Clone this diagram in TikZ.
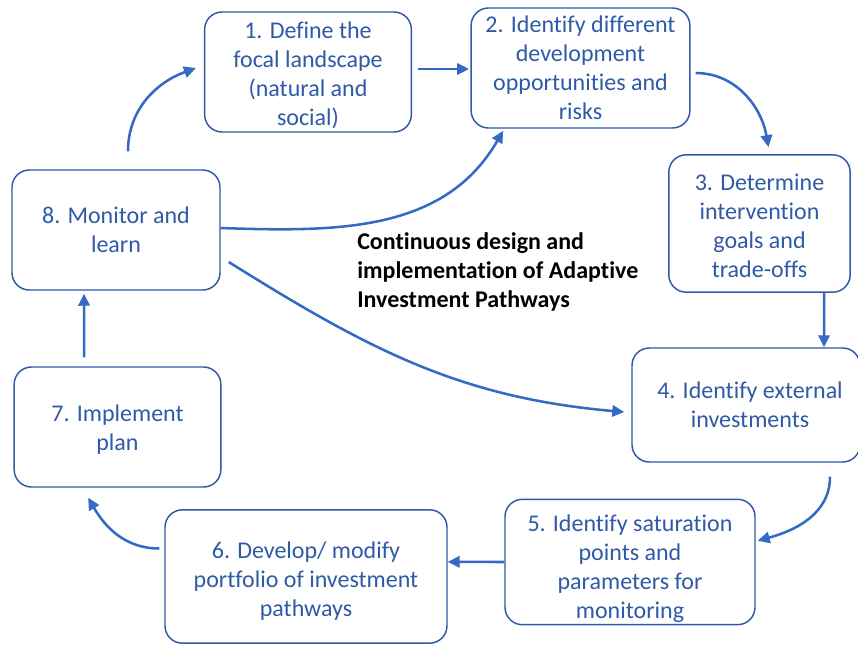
\documentclass[tikz,border=0pt]{standalone}
\usepackage{fontspec}
\setmainfont{Carlito}[Ligatures=NoCommon]
\usetikzlibrary{arrows.meta}
\definecolor{boxblue}{RGB}{47,90,168}
\definecolor{arrowblue}{RGB}{52,106,196}
\newcommand{\topgap}[1]{\rule{0pt}{#1}}

\begin{document}
\begin{tikzpicture}[x=0.75pt,y=-0.75pt]

    % 定义样式
    \tikzstyle{process} = [rectangle, rounded corners=13pt, draw=boxblue, line width=1.1pt, text=boxblue, align=center, inner sep=0pt, font=\fontsize{18}{21.75}\selectfont]
    \tikzstyle{arrow} = [draw=arrowblue, line width=1.9pt, -{Triangle[length=9pt,width=8.5pt]}]

    \useasboundingbox[fill=white] (0,0) rectangle (858,644);

    % 创建节点
    \node (define) [process, minimum width=155pt, minimum height=90pt] at (308,72) {\topgap{17.5pt}1. Define the\\focal landscape\\(natural and\\social)};
    \node (identify) [process, minimum width=164pt, minimum height=90pt] at (580.5,68) {2. Identify different\\development\\opportunities and\\risks};
    \node (goals) [process, minimum width=136pt, minimum height=103pt] at (759.5,223.5) {\topgap{16pt}3. Determine\\intervention\\goals and\\trade-offs};
    \node (external) [process, minimum width=171pt, minimum height=85.5pt] at (746,405) {\hspace*{6pt}4. Identify external\\\hspace*{6pt}investments};
    \node (saturation) [process, minimum width=187.5pt, minimum height=94pt] at (630,562) {\topgap{22pt}5. Identify saturation\\points and\\parameters for\\monitoring};
    \node (portfolio) [process, minimum width=211.5pt, minimum height=100pt] at (306,576.5) {\topgap{19pt}6. Develop/ modify\\portfolio of investment\\pathways};
    \node (implement) [process, minimum width=155pt, minimum height=90pt] at (117.5,427) {\topgap{17pt}7. Implement\\plan};
    \node (monitor) [process, minimum width=156pt, minimum height=90pt] at (116,230) {8. Monitor and\\learn};
    \node (cycle) [anchor=west, align=left, inner sep=0pt, font=\bfseries\fontsize{18}{21.5}\selectfont] at (357,272) {Continuous design and\\implementation of Adaptive\\Investment Pathways};

    % 连接节点
    \draw [arrow] ([xshift=9pt,yshift=13.5pt]monitor.north) to[out=90,in=200] ([xshift=-6pt,yshift=3pt]define.west);
    \draw [arrow] ([xshift=4.5pt,yshift=2.25pt]define.east) -- ([xshift=-1pt,yshift=-0.75pt]identify.west);
    \draw [arrow] ([xshift=3.75pt,yshift=-3.75pt]identify.east) to[out=0,in=100] ([xshift=6.75pt,yshift=5.25pt]goals.north);
    \draw [arrow] ([xshift=48.5pt]goals.south) -- ([xshift=58.5pt]external.north);
    \draw [arrow] ([xshift=63pt,yshift=-10.5pt]external.south) to[out=-90,in=15] ([xshift=1.5pt,yshift=16pt]saturation.east);
    \draw [arrow] (saturation.west) -- ([yshift=11pt]portfolio.east);
    \draw [arrow] ([xshift=-3.75pt,yshift=21pt]portfolio.west) to[out=180,in=-60] ([xshift=-22pt,yshift=-7.5pt]implement.south);
    \draw [arrow] ([xshift=-25pt,yshift=6.75pt]implement.north) -- ([xshift=-24pt,yshift=-2.25pt]monitor.south);
    \draw [arrow] ([yshift=1.5pt]monitor.east) to[out=-2,in=-120] ([xshift=-58pt,yshift=-1.5pt]identify.south);
    \draw [arrow] ([xshift=6pt,yshift=-24pt]monitor.east) to[out=-32,in=175] ([xshift=-5.25pt,yshift=-5.25pt]external.west);

\end{tikzpicture}
\end{document}
